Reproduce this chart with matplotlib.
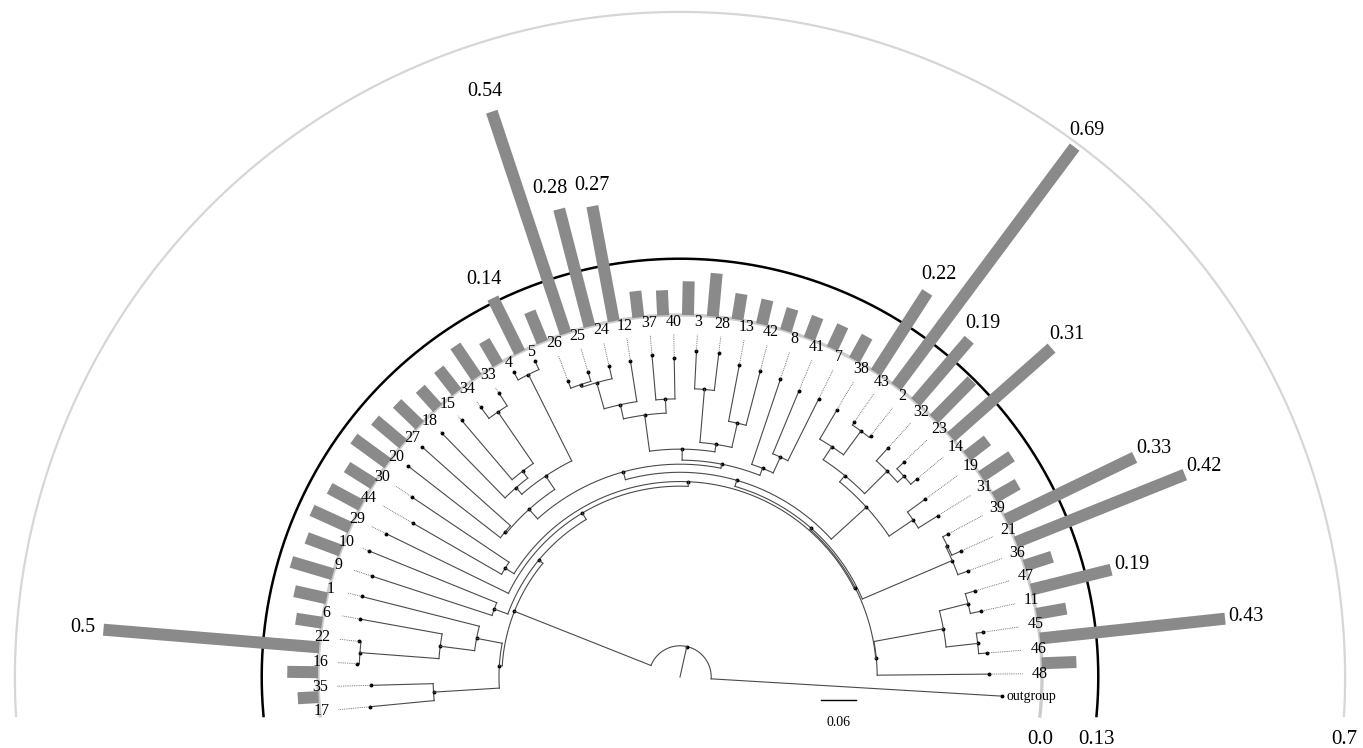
import numpy as np
import matplotlib
matplotlib.use("Agg")
import matplotlib.pyplot as plt
from matplotlib.patches import Polygon

# tips, counter-clockwise from the outgroup
tip_names = ["outgroup", "48", "46", "45", "11", "47", "36", "21", "39", "31",
             "19", "14", "23", "32", "2", "43", "38", "7", "41", "8",
             "42", "13", "28", "3", "40", "37", "12", "24", "25", "26",
             "5", "4", "33", "34", "15", "18", "27", "20", "30", "44",
             "29", "10", "9", "1", "6", "22", "16", "35", "17"]
# root-to-tip distance (substitutions / site)
tip_depth = [0.558, 0.534, 0.533, 0.530, 0.532, 0.531, 0.531, 0.532, 0.525, 0.526,
             0.523, 0.535, 0.536, 0.534, 0.532, 0.534, 0.536, 0.537, 0.535, 0.543,
             0.547, 0.550, 0.564, 0.564, 0.551, 0.559, 0.553, 0.552, 0.550, 0.547,
             0.602, 0.601, 0.582, 0.580, 0.583, 0.589, 0.597, 0.595, 0.558, 0.532,
             0.566, 0.580, 0.560, 0.568, 0.563, 0.558, 0.559, 0.534, 0.538]
# value plotted as a bar outside each tip
bar_values = [0, 0, 0.08, 0.43, 0.07, 0.19, 0.067, 0.42, 0.33, 0.062,
              0.084, 0.06, 0.31, 0.125, 0.19, 0.69, 0.22, 0.061, 0.058, 0.054,
              0.053, 0.058, 0.06, 0.10, 0.078, 0.058, 0.061, 0.27, 0.28, 0.54,
              0.076, 0.14, 0.062, 0.088, 0.067, 0.06, 0.073, 0.085, 0.097, 0.073,
              0.083, 0.097, 0.084, 0.10, 0.076, 0.061, 0.5, 0.071, 0.048]
ring_ticks = [0.0, 0.13, 0.7]
scale_len = 0.06

# internal nodes: (depth, child, child)
clade_L = (0.313, (0.427, "35", "17"),
           (0.358, "1", (0.418, "6", (0.555, "22", "16"))))
clade_Y = (0.341, "48", (0.463, (0.514, "47", "11"), (0.518, "45", "46")))
clade_Z = (0.436, (0.486, "31", "19"),
           (0.450, (0.477, "38", (0.528, "43", "2")),
            (0.505, "32", (0.520, "23", "14"))))
clade_Q = (0.482, "12", (0.529, (0.534, "26", "25"), "24"))
clade_T = (0.394, (0.457, clade_Q, (0.481, "40", "37")),
           (0.407, (0.499, "3", "28"), (0.450, "42", "13")))
clade_U = (0.375, clade_T, (0.388, (0.418, "7", "41"), "8"))
clade_LT = (0.390, (0.418, (0.585, "4", "5"),
                    (0.433, (0.448, (0.556, "33", "34"), "15"), "18")),
            (0.393, "27", "20"))
k3 = (0.354, clade_Z, (0.368, clade_U, clade_LT))
k2 = (0.343, (0.512, (0.515, "39", "21"), "36"), k3)
a4 = (0.340, clade_Y, k2)
a3 = (0.338, (0.356, "30", "44"), a4)
a2 = (0.330, "29", a3)
a1 = (0.317, (0.342, "10", "9"), a2)
tree = (0.054, "outgroup", (0.308, clade_L, a1))

# layout
CX, CY = 680.0, 677.0
PX = 578.3                 # pixels per substitution
BAR0, BARPX = 362.0, 433.0  # bar ring base and pixels per bar unit
ANG0, STEP, SHIFT = -3.4, 3.935, -2.3
BOTTOM = 39.0

angle = {n: ANG0 + i * STEP for i, n in enumerate(tip_names)}
depth = dict(zip(tip_names, tip_depth))

LINE = "#4a4a4a"
fig = plt.figure(figsize=(13.63, 7.48), dpi=100)
ax = fig.add_axes([0, 0, 1, 1])
ax.set_xlim(0, 1363)
ax.set_ylim(748, 0)
ax.axis("off")
SERIF = ["Liberation Serif", "DejaVu Serif"]


def xy(r, a):
    t = np.radians(a)
    return CX + r * np.cos(t), CY - r * np.sin(t)


def arc(r, a1, a2, **kw):
    a = np.linspace(a1, a2, int(abs(a2 - a1) * 3) + 2)
    x, y = xy(r, a)
    ax.plot(x, y, **kw)


def draw(node):
    if isinstance(node, str):
        return angle[node], depth[node]
    d, *kids = node
    info = [draw(k) for k in kids]
    angs = [a for a, _ in info]
    r = d * PX
    arc(r, min(angs), max(angs), color=LINE, lw=0.8)
    for a, cd in info:
        x, y = xy(np.array([r, cd * PX]), a)
        ax.plot(x, y, color=LINE, lw=0.8)
    a = (min(angs) + max(angs)) / 2
    ax.plot(*xy(r, a), "o", ms=1.8, color="black")
    return a, d


ra, rd = draw(tree)
x, y = xy(np.array([0, rd * PX]), ra)
ax.plot(x, y, color=LINE, lw=0.8)

# tips: dots, dotted leaders and labels
for name in tip_names:
    a, r = angle[name], depth[name] * PX
    ax.plot(*xy(r, a), "o", ms=1.8, color="black")
    if name == "outgroup":
        ax.text(*xy(r + 4, a), name, ha="left", va="center", fontsize=10,
                family=SERIF)
        continue
    lead = 343
    if lead > r + 2:
        x, y = xy(np.array([r, lead]), a)
        ax.plot(x, y, color="#555555", lw=0.6, ls=(0, (1, 1.2)))
    c = abs(np.cos(np.radians(a)))
    ax.text(*xy(355 + 5 * c, a), name, ha="center", va="center",
            fontsize=11.5, family=SERIF)

# rings
for v, col, lw in [(0.0, "#cccccc", 2.4), (0.13, "black", 1.8), (0.7, "#d6d6d6", 1.6)]:
    r = BAR0 + v * BARPX
    e = np.degrees(np.arcsin(BOTTOM / r))
    arc(r, -e, 180 + e, color=col, lw=lw, zorder=1)
    ax.text(CX + np.sqrt(r ** 2 - BOTTOM ** 2), CY + 63, f"{v:g}" if v else "0.0",
            ha="center", va="center", fontsize=15, family=SERIF)

# bars
half = 6.0
labels = []
for name, v in zip(tip_names, bar_values):
    if v <= 0:
        continue
    a = np.radians(angle[name] + SHIFT)
    u = np.array([np.cos(a), -np.sin(a)])
    n = np.array([np.sin(a), np.cos(a)])
    p0 = np.array([CX, CY]) + u * BAR0
    p1 = np.array([CX, CY]) + u * (BAR0 + v * BARPX)
    pts = [p0 + n * half, p1 + n * half, p1 - n * half, p0 - n * half]
    ax.add_patch(Polygon(pts, closed=True, color="#8a8a8a", lw=0, zorder=2))
    if v > ring_ticks[1]:
        lx, ly = xy(BAR0 + v * BARPX + 21, angle[name] + SHIFT)
        labels.append([lx, ly, f"{v:g}"])

# keep neighbouring value labels from running into each other
labels.sort(key=lambda t: t[0])
for p, q in zip(labels, labels[1:]):
    gap = q[0] - p[0]
    if abs(q[1] - p[1]) < 16 and gap < 42:
        p[0] -= (42 - gap) / 2
        q[0] += (42 - gap) / 2
for lx, ly, s in labels:
    ax.text(lx, ly, s, ha="center", va="center", fontsize=14.5, family=SERIF)

# scale bar
sx = 821
ax.plot([sx, sx + scale_len * PX], [700, 700], color="black", lw=1.0)
ax.text(sx + scale_len * PX / 2, 722, f"{scale_len:g}", ha="center", va="center",
        fontsize=10, family=SERIF)

fig.savefig("out.png", dpi=100)
